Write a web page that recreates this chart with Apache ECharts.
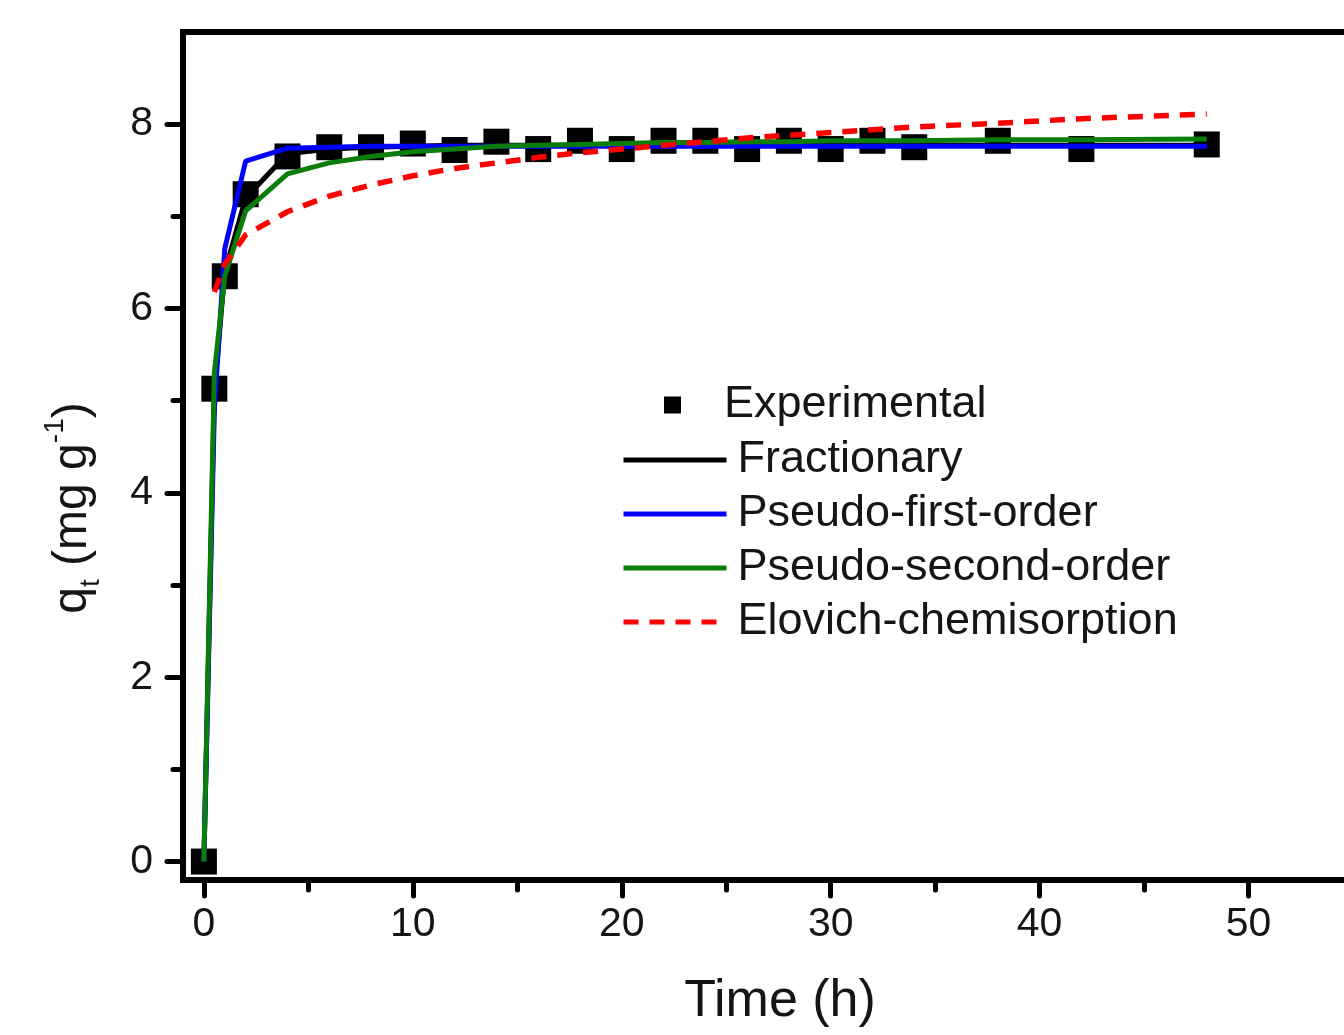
<!DOCTYPE html>
<html>
<head>
<meta charset="utf-8">
<script src="https://cdn.jsdelivr.net/npm/echarts@6/dist/echarts.min.js"></script>
<style>
  html, body { margin: 0; padding: 0; background: #fff; overflow: hidden; }
  /* a bit wider than the window: the right frame sits just off-screen */
  #kinetics { width: 1360px; height: 1035px; }
</style>
</head>
<body>
<div id="kinetics"></div>
<script>
  // contact time (h)
  var timeH = [0, 0.5, 1, 2, 4, 6, 8, 10, 12, 14, 16, 18, 20, 22, 24, 26, 28, 30, 32, 34, 38, 42, 48]
  // measured q_t (mg/g)
  var qExp = [0, 5.13, 6.35, 7.24, 7.65, 7.75, 7.75, 7.79, 7.72, 7.81, 7.73, 7.82, 7.73, 7.82, 7.82, 7.73, 7.82, 7.73, 7.82, 7.75, 7.82, 7.73, 7.78]
  // model fits, same time points
  var qFractionary = [0, 5.1, 6.4, 7.2, 7.68, 7.73, 7.75, 7.76, 7.77, 7.77, 7.77, 7.77, 7.77, 7.77, 7.77, 7.77, 7.77, 7.77, 7.77, 7.77, 7.77, 7.77, 7.77]
  var qPfo = [0, 4.9, 6.65, 7.6, 7.74, 7.75, 7.76, 7.76, 7.76, 7.76, 7.76, 7.76, 7.76, 7.76, 7.76, 7.76, 7.76, 7.76, 7.76, 7.76, 7.76, 7.76, 7.76]
  var qPso = [0, 5.3, 6.35, 7.06, 7.46, 7.58, 7.65, 7.7, 7.73, 7.76, 7.77, 7.78, 7.79, 7.8, 7.8, 7.81, 7.81, 7.82, 7.82, 7.82, 7.83, 7.83, 7.84]
  var qElovich = [null, 6.18, 6.48, 6.8, 7.05, 7.22, 7.34, 7.44, 7.52, 7.58, 7.64, 7.69, 7.73, 7.77, 7.81, 7.85, 7.88, 7.91, 7.94, 7.97, 8.01, 8.06, 8.11]

  var xMajor = [0, 10, 20, 30, 40, 50]
  var xMinor = [5, 15, 25, 35, 45]
  var yMajor = [0, 2, 4, 6, 8]
  var yMinor = [1, 3, 5, 7]

  function pairs(vals) {
    var out = []
    for (var i = 0; i < timeH.length; i++) {
      if (vals[i] !== null) out.push([timeH[i], vals[i]])
    }
    return out
  }

  var font = 'Liberation Sans, Arial, sans-serif'
  var ink = '#151515'
  var box = { left: 183, right: 7, top: 32, bottom: 155 }
  var tickStyle = { color: '#000', width: 5, cap: 'round' }

  var chart = echarts.init(document.getElementById('kinetics'))
  chart.setOption({
    animation: false,
    backgroundColor: '#fff',
    grid: [
      Object.assign({ show: true, borderColor: '#000', borderWidth: 6 }, box),
      Object.assign({ show: false }, box)
    ],
    legend: [
      {
        data: ['Experimental'],
        orient: 'vertical',
        left: 664,
        top: 382,
        padding: 0,
        icon: 'rect',
        itemWidth: 17,
        itemHeight: 17,
        itemStyle: { opacity: 1 },
        textStyle: { fontSize: 45, fontFamily: font, color: ink, lineHeight: 46, padding: [0, 0, 0, 38] }
      },
      {
        data: ['Fractionary', 'Pseudo-first-order', 'Pseudo-second-order', 'Elovich-chemisorption'],
        orient: 'vertical',
        left: 621,
        top: 437,
        padding: 0,
        itemWidth: 103,
        itemHeight: 14,
        itemGap: 8,
        itemStyle: { opacity: 0 },
        lineStyle: { width: 5 },
        textStyle: { fontSize: 45, fontFamily: font, color: ink, lineHeight: 46, padding: [0, 0, 0, 6] }
      }
    ],
    xAxis: [
      {
        type: 'value',
        gridIndex: 0,
        min: -1,
        max: 55,
        position: 'bottom',
        name: 'Time (h)',
        nameLocation: 'middle',
        nameGap: 96,
        nameTextStyle: { fontSize: 52, fontFamily: font, color: ink, padding: [0, 0, 0, 24] },
        axisLine: { onZero: false, lineStyle: { color: '#000', width: 6 } },
        axisTick: { customValues: xMajor, length: 16, lineStyle: tickStyle },
        axisLabel: { customValues: xMajor, fontSize: 41, fontFamily: font, color: ink, margin: 24 },
        splitLine: { show: false }
      },
      {
        type: 'value',
        gridIndex: 1,
        min: -1,
        max: 55,
        position: 'bottom',
        axisLine: { show: false, onZero: false },
        axisTick: { customValues: xMinor, length: 10, lineStyle: tickStyle },
        axisLabel: { show: false },
        splitLine: { show: false }
      }
    ],
    yAxis: [
      {
        type: 'value',
        gridIndex: 0,
        min: -0.2,
        max: 9,
        position: 'left',
        name: '{t|q}{sub|t}{t| (mg g}{sup|-1}{t|)}',
        nameLocation: 'middle',
        nameRotate: 90,
        nameGap: 78,
        nameTextStyle: {
          padding: [0, 104, 0, 0],
          rich: {
            t: { fontSize: 48, fontFamily: font, color: ink, lineHeight: 64 },
            sub: { fontSize: 28, fontFamily: font, color: ink, lineHeight: 64, verticalAlign: 'bottom' },
            sup: { fontSize: 28, fontFamily: font, color: ink, lineHeight: 64, verticalAlign: 'top' }
          }
        },
        axisLine: { onZero: false, lineStyle: { color: '#000', width: 6 } },
        axisTick: { customValues: yMajor, length: 16, lineStyle: tickStyle },
        axisLabel: { customValues: yMajor, fontSize: 41, fontFamily: font, color: ink, margin: 30 },
        splitLine: { show: false }
      },
      {
        type: 'value',
        gridIndex: 1,
        min: -0.2,
        max: 9,
        position: 'left',
        axisLine: { show: false, onZero: false },
        axisTick: { customValues: yMinor, length: 10, lineStyle: tickStyle },
        axisLabel: { show: false },
        splitLine: { show: false }
      }
    ],
    series: [
      {
        name: 'Experimental',
        type: 'scatter',
        symbol: 'rect',
        symbolSize: 26,
        itemStyle: { color: '#000', opacity: 1 },
        z: 2,
        data: pairs(qExp)
      },
      {
        name: 'Fractionary',
        type: 'line',
        symbol: 'none',
        lineStyle: { color: '#000', width: 5 },
        itemStyle: { color: '#000' },
        z: 3,
        data: pairs(qFractionary)
      },
      {
        name: 'Pseudo-first-order',
        type: 'line',
        symbol: 'none',
        lineStyle: { color: '#0000ff', width: 5 },
        itemStyle: { color: '#0000ff' },
        z: 4,
        data: pairs(qPfo)
      },
      {
        name: 'Pseudo-second-order',
        type: 'line',
        symbol: 'none',
        lineStyle: { color: '#0a7d0a', width: 5 },
        itemStyle: { color: '#0a7d0a' },
        z: 5,
        data: pairs(qPso)
      },
      {
        name: 'Elovich-chemisorption',
        type: 'line',
        symbol: 'none',
        lineStyle: { color: '#ff0000', width: 5.5, type: [15, 11] },
        itemStyle: { color: '#ff0000' },
        z: 6,
        data: pairs(qElovich)
      }
    ]
  })
</script>
</body>
</html>
